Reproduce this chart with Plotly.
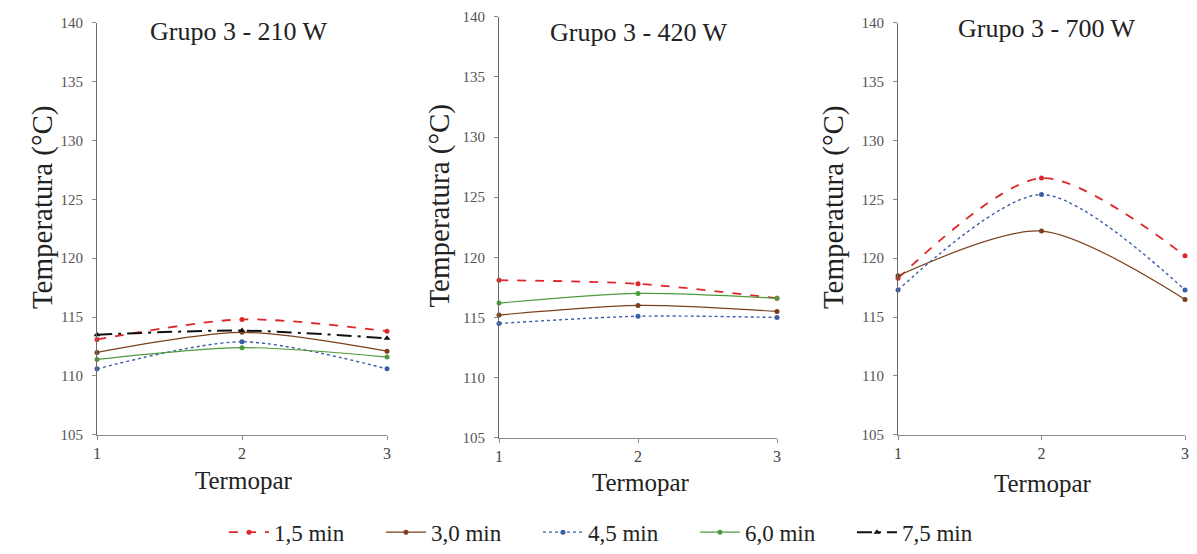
import plotly.graph_objects as go

termopar = [1, 2, 3]
x_ticks = [1, 2, 3]
y_ticks = [105, 110, 115, 120, 125, 130, 135, 140]

series_names = ["1,5 min", "3,0 min", "4,5 min", "6,0 min", "7,5 min"]
panel_titles = ["Grupo 3 - 210 W", "Grupo 3 - 420 W", "Grupo 3 - 700 W"]

# Grupo 3 - 210 W
w210_15 = [113.1, 114.8, 113.8]
w210_30 = [112.0, 113.7, 112.1]
w210_45 = [110.6, 112.9, 110.6]
w210_60 = [111.4, 112.4, 111.6]
w210_75 = [113.5, 113.85, 113.2]

# Grupo 3 - 420 W
w420_15 = [118.1, 117.8, 116.6]
w420_30 = [115.2, 116.0, 115.5]
w420_45 = [114.5, 115.1, 115.0]
w420_60 = [116.2, 117.0, 116.6]

# Grupo 3 - 700 W
w700_15 = [118.3, 126.8, 120.2]
w700_30 = [118.5, 122.3, 116.5]
w700_45 = [117.3, 125.4, 117.3]

styles = {
    "1,5 min": dict(color="#e0262b", dash="dash", width=1.8, symbol="circle", msize=5),
    "3,0 min": dict(color="#7b3f1c", dash="solid", width=1.2, symbol="circle", msize=5),
    "4,5 min": dict(color="#3a5fa8", dash="dot", width=1.4, symbol="circle", msize=5),
    "6,0 min": dict(color="#4e9a3c", dash="solid", width=1.2, symbol="circle", msize=5),
    "7,5 min": dict(color="#111111", dash="longdashdot", width=2.0, symbol="triangle-up", msize=6),
}

panels = [
    [("1,5 min", w210_15), ("3,0 min", w210_30), ("4,5 min", w210_45), ("6,0 min", w210_60), ("7,5 min", w210_75)],
    [("1,5 min", w420_15), ("3,0 min", w420_30), ("4,5 min", w420_45), ("6,0 min", w420_60)],
    [("1,5 min", w700_15), ("3,0 min", w700_30), ("4,5 min", w700_45)],
]

W, H = 1197, 554
# plot-area pixel boxes (left, right, top, bottom)
boxes = [(97, 387, 23, 442), (499, 777, 17, 445), (898, 1185, 23, 442)]

SERIF = "Liberation Serif, Times New Roman, serif"

fig = go.Figure()
for i, series in enumerate(panels):
    suffix = "" if i == 0 else str(i + 1)
    for name, vals in series:
        s = styles[name]
        fig.add_trace(go.Scatter(
            x=termopar, y=vals, name=name, legendgroup=name,
            showlegend=(i == 0),
            mode="lines+markers",
            line=dict(color=s["color"], dash=s["dash"], width=s["width"], shape="spline", smoothing=0.8),
            marker=dict(color=s["color"], symbol=s["symbol"], size=s["msize"]),
            cliponaxis=False,
            xaxis="x" + suffix, yaxis="y" + suffix,
        ))

layout = dict(
    width=W, height=H,
    margin=dict(l=0, r=0, t=0, b=0),
    paper_bgcolor="white", plot_bgcolor="white",
    font=dict(family=SERIF, color="#222"),
    legend=dict(
        orientation="h", x=0.515, xanchor="center", y=(H - 541) / H, yanchor="middle",
        font=dict(family=SERIF, size=23, color="#222"),
        entrywidth=102, entrywidthmode="pixels",
        itemwidth=40, tracegroupgap=0,
    ),
    annotations=[],
)

for i, (l, r, t, b) in enumerate(boxes):
    suffix = "" if i == 0 else str(i + 1)
    xd = [l / W, r / W]
    yd = [1 - b / H, 1 - t / H]
    layout["xaxis" + suffix] = dict(
        domain=xd, range=[1, 3], tickvals=x_ticks, anchor="y" + suffix,
        showgrid=False, zeroline=False, showline=True, linecolor="#8a8a8a", linewidth=1,
        ticks="outside", ticklen=4, tickcolor="#8a8a8a",
        tickfont=dict(family=SERIF, size=16, color="#444"),
        automargin=False,
    )
    layout["yaxis" + suffix] = dict(
        domain=yd, range=[105, 140], tickvals=y_ticks, anchor="x" + suffix,
        showgrid=False, zeroline=False, showline=True, linecolor="#6a6a6a", linewidth=1,
        ticks="outside", ticklen=4, tickcolor="#8a8a8a",
        tickfont=dict(family=SERIF, size=15, color="#555"),
        ticklabelstandoff=6,
        automargin=False,
    )

title_pos = [(239, 32), (639, 33), (1047, 29)]
ytitle_x = [42, 440, 833]
xtitle_pos = [(243, 488), (640, 490), (1042, 491)]
for i in range(3):
    tx, ty = title_pos[i]
    layout["annotations"].append(dict(
        text=panel_titles[i], x=tx / W, y=1 - ty / H, xref="paper", yref="paper",
        showarrow=False, xanchor="center", yanchor="middle",
        font=dict(family=SERIF, size=26, color="#222"),
    ))
    l, r, t, b = boxes[i]
    layout["annotations"].append(dict(
        text="Temperatura (°C)", x=ytitle_x[i] / W, y=1 - ((t + b) / 2 - 22) / H,
        xref="paper", yref="paper", showarrow=False, textangle=-90,
        xanchor="center", yanchor="middle",
        font=dict(family=SERIF, size=29, color="#222"),
    ))
    xx, xy = xtitle_pos[i]
    layout["annotations"].append(dict(
        text="Termopar", x=xx / W, y=1 - xy / H, xref="paper", yref="paper",
        showarrow=False, xanchor="center", yanchor="middle",
        font=dict(family=SERIF, size=25, color="#222"),
    ))

fig.update_layout(**layout)
fig.write_html("out.html", config={"displayModeBar": False},
               post_script="document.body.style.margin='0px';")
